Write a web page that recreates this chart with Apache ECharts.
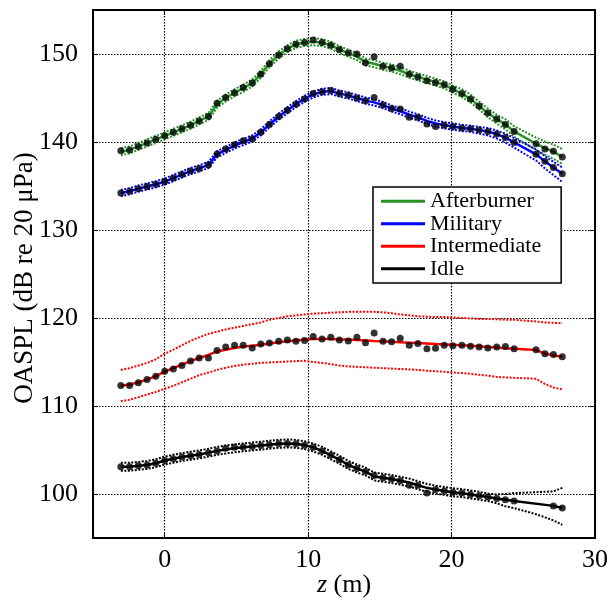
<!DOCTYPE html>
<html><head><meta charset="utf-8">
<script src="https://cdn.jsdelivr.net/npm/echarts@6/dist/echarts.min.js"></script>
<style>html,body{margin:0;padding:0;background:#fff}#c{width:609px;height:601px}</style>
</head><body><div id="c"></div>
<script>
const z = [-3.06,-2.45,-1.84,-1.23,-0.62,0.0,0.6,1.2,1.8,2.4,3.05,3.65,4.25,4.87,5.47,6.1,6.7,7.3,7.95,8.55,9.15,9.75,10.35,10.97,11.58,12.18,12.8,13.4,14.0,14.6,15.22,15.82,16.42,17.05,17.65,18.28,18.88,19.49,20.09,20.72,21.32,21.92,22.53,23.15,23.75,24.36,25.89,26.51,27.1,27.72];

const abMean = [138.9,139.1,139.5,139.9,140.3,140.7,141.1,141.5,141.9,142.4,142.9,144.3,145.0,145.6,146.1,146.7,147.7,148.9,149.9,150.6,151.1,151.3,151.4,151.3,151.0,150.5,150.1,149.7,149.1,148.9,148.6,148.4,148.1,147.7,147.4,147.1,146.8,146.5,146.0,145.5,144.9,144.1,143.3,142.6,142.0,141.2,139.8,139.3,138.9,138.3];
const abUpper = [139.3,139.5,139.9,140.3,140.7,141.1,141.5,141.9,142.3,142.8,143.3,144.7,145.4,146.0,146.5,147.1,148.1,149.3,150.3,151.0,151.5,151.7,151.8,151.7,151.4,150.9,150.5,150.1,149.5,149.3,149.0,148.8,148.5,148.1,147.8,147.5,147.2,146.9,146.4,146.0,145.4,144.6,143.8,143.1,142.6,141.8,140.5,140.05,139.7,139.2];
const abLower = [138.5,138.7,139.1,139.5,139.9,140.3,140.7,141.1,141.5,142.0,142.5,143.9,144.6,145.2,145.7,146.3,147.3,148.5,149.5,150.2,150.7,150.9,151.0,150.9,150.6,150.1,149.7,149.3,148.7,148.5,148.2,148.0,147.7,147.3,147.0,146.7,146.4,146.1,145.6,145.1,144.5,143.7,142.8,142.1,141.45,140.6,139.1,138.55,138.1,137.5];
const abDots = [139.0,139.1,139.5,139.9,140.3,140.7,141.1,141.5,141.9,142.4,142.9,144.4,145.05,145.6,146.2,146.7,147.7,148.9,149.9,150.6,151.1,151.3,151.6,151.3,151.0,150.5,150.1,150.0,149.0,149.7,148.6,148.4,148.6,147.7,147.4,146.95,146.75,146.5,146.0,145.5,144.9,144.1,143.3,142.6,142.0,141.2,139.8,139.2,138.95,138.3];

const milMean = [134.2,134.4,134.7,134.95,135.2,135.5,135.9,136.3,136.7,137.0,137.4,138.6,139.1,139.6,140.0,140.4,141.1,142.0,142.9,143.6,144.3,144.9,145.4,145.7,145.8,145.5,145.3,145.0,144.7,144.5,144.2,143.8,143.5,143.1,142.8,142.4,142.1,141.9,141.75,141.6,141.5,141.35,141.2,140.9,140.5,139.95,138.6,137.8,137.1,136.4];
const milUpper = [134.55,134.75,135.05,135.3,135.55,135.85,136.25,136.65,137.05,137.35,137.75,138.95,139.45,139.95,140.35,140.75,141.45,142.35,143.25,143.95,144.65,145.25,145.75,146.05,146.15,145.85,145.65,145.35,145.05,144.85,144.55,144.15,143.85,143.45,143.15,142.75,142.45,142.25,142.1,141.95,141.85,141.7,141.6,141.3,140.95,140.45,139.15,138.4,137.75,137.1];
const milLower = [133.85,134.05,134.35,134.6,134.85,135.15,135.55,135.95,136.35,136.65,137.05,138.25,138.75,139.25,139.65,140.05,140.75,141.65,142.55,143.25,143.95,144.55,145.05,145.35,145.45,145.15,144.95,144.65,144.35,144.15,143.85,143.45,143.15,142.75,142.45,142.05,141.75,141.55,141.4,141.25,141.15,140.95,140.75,140.4,139.95,139.35,137.9,137.0,136.25,135.45];
const milDots = [134.2,134.4,134.7,134.95,135.2,135.5,135.9,136.3,136.7,137.0,137.4,138.65,139.2,139.7,140.15,140.35,141.1,142.0,142.9,143.6,144.3,144.9,145.5,145.7,145.85,145.5,145.3,145.0,144.7,145.05,144.2,143.8,143.75,142.8,142.8,142.05,141.75,141.9,141.75,141.6,141.5,141.35,141.2,140.9,140.5,139.95,138.6,137.8,137.1,136.4];

const intMean = [112.3,112.45,112.7,113.0,113.4,113.9,114.3,114.7,115.1,115.45,115.8,116.2,116.4,116.6,116.75,116.85,116.95,117.1,117.25,117.35,117.45,117.55,117.6,117.6,117.6,117.55,117.55,117.5,117.45,117.4,117.35,117.3,117.25,117.2,117.15,117.1,117.05,117.0,116.95,116.9,116.85,116.8,116.7,116.65,116.55,116.5,116.35,115.95,115.75,115.6];
const intUpper = [114.1,114.3,114.6,114.9,115.3,115.95,116.4,116.9,117.4,117.8,118.2,118.45,118.7,118.9,119.1,119.3,119.5,119.8,120.0,120.2,120.3,120.4,120.5,120.55,120.6,120.65,120.7,120.7,120.7,120.7,120.65,120.55,120.4,120.3,120.2,120.15,120.1,120.1,120.05,120.0,119.95,119.9,119.9,119.85,119.8,119.8,119.6,119.5,119.45,119.4];
const intLower = [110.55,110.7,111.0,111.3,111.6,111.95,112.3,112.7,113.1,113.5,113.8,114.1,114.35,114.55,114.7,114.8,114.9,114.95,115.0,115.05,115.1,115.15,115.0,114.9,114.75,114.6,114.5,114.45,114.4,114.35,114.3,114.25,114.2,114.15,114.1,114.0,113.95,113.9,113.8,113.75,113.65,113.55,113.45,113.3,113.25,113.2,113.1,112.5,112.1,111.9];
const intDots = [112.33,112.33,112.63,113.0,113.38,113.95,114.2,114.6,115.1,115.45,115.45,116.3,116.7,116.9,116.9,116.6,117.05,117.15,117.35,117.5,117.35,117.45,117.9,117.6,117.8,117.5,117.4,117.8,117.2,118.3,117.35,117.3,117.7,116.9,117.1,116.5,116.55,116.9,116.85,116.9,116.8,116.7,116.6,116.7,116.75,116.5,116.4,115.95,115.85,115.6];

const idleMean = [103.1,103.1,103.2,103.3,103.5,103.8,104.0,104.2,104.35,104.5,104.7,104.9,105.05,105.2,105.3,105.4,105.5,105.6,105.7,105.75,105.7,105.55,105.3,104.9,104.4,103.9,103.3,102.9,102.55,102.0,101.85,101.7,101.5,101.3,101.0,100.7,100.5,100.35,100.2,100.1,99.95,99.8,99.65,99.5,99.35,99.2,null,null,98.65,98.4];
const idleUpper = [103.55,103.55,103.65,103.75,103.95,104.25,104.45,104.65,104.8,104.95,105.15,105.35,105.5,105.65,105.75,105.85,105.95,106.05,106.15,106.2,106.15,106.0,105.75,105.35,104.85,104.35,103.75,103.35,103.0,102.45,102.3,102.15,101.95,101.75,101.45,101.15,100.95,100.8,100.65,100.55,100.4,100.25,100.05,99.95,100.0,100.1,100.2,100.25,100.3,100.7];
const idleLower = [102.65,102.65,102.75,102.85,103.05,103.35,103.55,103.75,103.9,104.05,104.25,104.45,104.6,104.75,104.85,104.95,105.05,105.15,105.25,105.3,105.25,105.1,104.85,104.45,103.95,103.45,102.85,102.45,102.1,101.55,101.4,101.25,101.05,100.85,100.55,100.25,100.05,99.9,99.75,99.65,99.5,99.35,99.2,98.95,98.6,98.4,97.7,97.35,97.0,96.5];
const idleDots = [103.1,103.1,103.2,103.3,103.5,103.8,104.0,104.2,104.35,104.5,104.7,104.9,105.2,105.3,105.35,105.4,105.5,105.6,105.7,105.75,105.7,105.55,105.3,104.9,104.4,103.9,103.3,102.9,102.55,102.1,101.85,101.7,101.5,101.0,101.0,100.1,100.5,100.35,100.2,100.1,99.95,99.8,99.65,99.5,99.35,99.2,null,null,98.65,98.4];

const names = ['Afterburner','Military','Intermediate','Idle'];
const colors = ['#279427','#0000ff','#ff0000','#000000'];
const xTitle = '{i|z} (m)';
const yTitle = 'OASPL (dB re 20 \u03bcPa)';

const FONT = 'Liberation Serif';
function pts(a){ return z.map((x,i)=>[x, a[i]]); }
function bound(color, arr){
  return {type:'line', data:pts(arr), symbol:'none', silent:true, connectNulls:true, z:2,
    lineStyle:{color:color, width:2, type:[2,1.5]}};
}
function mean(name, color, arr){
  return {name:name, type:'line', data:pts(arr), symbol:'none', connectNulls:true, z:3,
    lineStyle:{color:color, width:2.5}, itemStyle:{color:color}};
}
function dots(arr){
  return {type:'scatter', data:pts(arr).filter(p=>p[1]!=null), symbol:'circle', symbolSize:7, z:4,
    itemStyle:{color:'#000'}};
}
const groups = [[abMean,abUpper,abLower,abDots],[milMean,milUpper,milLower,milDots],[intMean,intUpper,intLower,intDots],[idleMean,idleUpper,idleLower,idleDots]];
const series = [];
groups.forEach((g,k)=>{
  series.push(bound(colors[k], g[1]));
  series.push(bound(colors[k], g[2]));
  series.push(mean(names[k], colors[k], g[0]));
  series.push(dots(g[3]));
});

const axLine = {show:true, onZero:false, lineStyle:{color:'#000', width:2}};
const tick = {show:true, inside:true, length:5, lineStyle:{color:'#000', width:1}};
const grid = {lineStyle:{color:'#000', width:1.2, type:[1.5,1.5]}};
const lab = {color:'#000', fontFamily:FONT, fontSize:26};

const chart = echarts.init(document.getElementById('c'), null, {renderer:'canvas'});
chart.setOption({
  animation:false,
  backgroundColor:'#fff',
  grid:{left:93, right:14, top:10, bottom:63, containLabel:false, outerBoundsMode:'none'},
  legend:{
    data:names.map(n=>({name:n, icon:'rect'})), orient:'vertical', left:373, top:187,
    backgroundColor:'#fff', borderColor:'#000', borderWidth:1.5,
    padding:[3,20,3,8], itemWidth:44, itemHeight:3, itemGap:0,
    textStyle:{color:'#000', fontFamily:FONT, fontSize:22, lineHeight:22.5}
  },
  xAxis:[{
    type:'value', min:-5, max:30, splitNumber:3,
    axisLine:axLine, axisTick:tick, splitLine:grid,
    axisLabel:Object.assign({showMinLabel:false, margin:9}, lab),
    name:xTitle, nameLocation:'middle', nameGap:34, nameMoveOverlap:false,
    nameTextStyle:{color:'#000', fontFamily:FONT, fontSize:26,
      rich:{i:{fontStyle:'italic', fontFamily:FONT, fontSize:26, color:'#000'}}}
  },{
    type:'value', position:'top', min:-5, max:30, splitNumber:3,
    axisLine:axLine, axisTick:tick, splitLine:{show:false}, axisLabel:{show:false}
  }],
  yAxis:[{
    type:'value', min:95, max:155, splitNumber:5,
    axisLine:axLine, axisTick:tick, splitLine:grid,
    axisLabel:Object.assign({showMinLabel:false, showMaxLabel:false, margin:15}, lab),
    name:yTitle, nameLocation:'middle', nameGap:55, nameMoveOverlap:false,
    nameTextStyle:{color:'#000', fontFamily:FONT, fontSize:27, padding:[0,8,0,0]}
  },{
    type:'value', position:'right', min:95, max:155, splitNumber:5,
    axisLine:axLine, axisTick:tick, splitLine:{show:false}, axisLabel:{show:false}
  }],
  series:series
});
</script></body></html>
